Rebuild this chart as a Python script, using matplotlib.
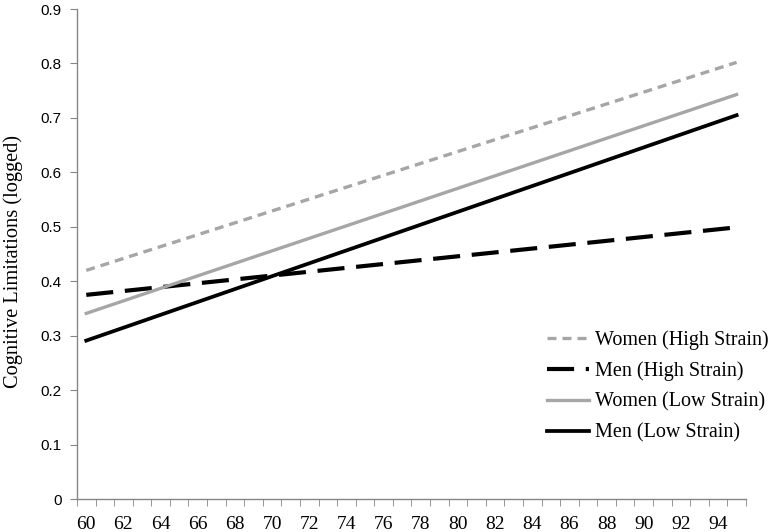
import matplotlib.pyplot as plt
import numpy as np

ages = [60, 95]
women_high = [0.420, 0.802]
men_high = [0.375, 0.499]
women_low = [0.341, 0.743]
men_low = [0.291, 0.705]

labels = ['Women (High Strain)', 'Men (High Strain)', 'Women (Low Strain)', 'Men (Low Strain)']
tick_ages = list(range(60, 96, 2))

fig = plt.figure(figsize=(7.76, 5.32), dpi=100)
ax = fig.add_axes([0.0992, 0.062, 0.862, 0.921])

gray = '#A6A6A6'
ax.plot(ages, women_high, color=gray, lw=2.4, linestyle=(0, (2.7, 1.8)), label=labels[0])
ax.plot(ages, men_high, color='black', lw=3.0, linestyle=(0, (6.5, 2.8)), label=labels[1])
ax.plot(ages, women_low, color=gray, lw=2.4, label=labels[2])
ax.plot(ages, men_low, color='black', lw=2.7, label=labels[3])

ax.set_xlim(59.5, 95.5)
ax.set_ylim(0, 0.9)

# Kategorienachse: Striche zwischen den Kategorien, Beschriftung jede zweite
ax.set_xticks(tick_ages)
ax.set_xticklabels([str(a) for a in tick_ages], fontfamily='Liberation Serif', fontsize=14)
ax.set_xticks(np.arange(59.5, 96, 1), minor=True)
ax.tick_params(axis='x', which='major', length=0, pad=12)
ax.tick_params(axis='x', which='minor', length=5, color='#868686', direction='out')

ax.set_yticks(np.arange(0, 0.91, 0.1))
ax.set_yticklabels(['0'] + ['%.1f' % v for v in np.arange(0.1, 0.91, 0.1)],
                   fontfamily='Liberation Sans', fontsize=11)
ax.tick_params(axis='y', length=5, color='#868686', direction='out', pad=6)

for s in ['top', 'right']:
    ax.spines[s].set_visible(False)
for s in ['left', 'bottom']:
    ax.spines[s].set_color('#868686')
    ax.spines[s].set_linewidth(1)

fig.text(0.0175, 0.509, 'Cognitive Limitations (logged)', rotation=90, ha='center', va='center',
         fontfamily='Liberation Serif', fontsize=14.7)

ax.legend(loc='center left', bbox_to_anchor=(0.705, 0.2735), bbox_transform=fig.transFigure,
          frameon=False, prop={'family': 'Liberation Serif', 'size': 14.5},
          handlelength=2.1, handletextpad=0.3, labelspacing=0.57, borderpad=0, borderaxespad=0)

fig.savefig('out.png', dpi=100)
